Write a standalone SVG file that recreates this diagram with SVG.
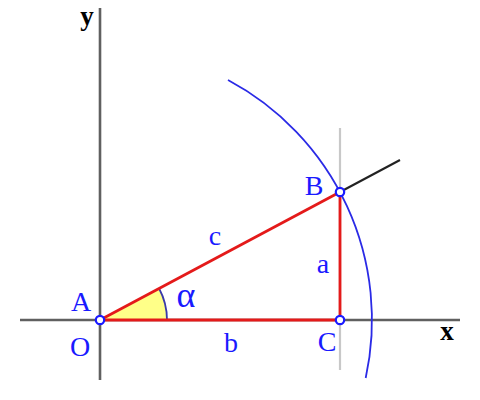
<svg xmlns="http://www.w3.org/2000/svg" width="480" height="400" viewBox="0 0 480 400">
<style>
.lbl{font-family:"Liberation Serif","Times New Roman",serif;font-size:28px;fill:#1a1aff;text-anchor:middle}
.ax{font-family:"Liberation Serif","Times New Roman",serif;font-size:27px;font-weight:bold;fill:#000;text-anchor:middle}
.axis{stroke:#606060;stroke-width:2.6;fill:none}
.side{stroke:#e41a1a;stroke-width:2.8;fill:none;stroke-linecap:round}
.pt{fill:#fff;stroke:#1a1aff;stroke-width:2.2}
</style>
<rect width="480" height="400" fill="#fff"/>
<g id="axes">
<line class="axis" x1="20" y1="320" x2="460" y2="320"/>
<line class="axis" x1="100" y1="8" x2="100" y2="380"/>
<text class="ax" x="447" y="340">x</text>
<text class="ax" x="87" y="25">y</text>
</g>
<g id="connectors">
<line x1="340" y1="128" x2="340" y2="370" stroke="#c8c8c8" stroke-width="2.2"/>
<line x1="340" y1="192" x2="400" y2="160" stroke="#222" stroke-width="2"/>
<path d="M228,80 A272,272 0 0 1 365.7,378" fill="none" stroke="#2a2ae6" stroke-width="1.8"/>
<path d="M100,320 L167,320 A67,67 0 0 0 159.1,288.5 Z" fill="#ffff88" stroke="none"/>
<path d="M167,320 A67,67 0 0 0 159.1,288.5" fill="none" stroke="#3a3aaa" stroke-width="1.8"/>
<line class="side" x1="100" y1="320" x2="340" y2="192"/>
<line class="side" x1="100" y1="320" x2="340" y2="320"/>
<line class="side" x1="340" y1="192" x2="340" y2="320"/>
</g>
<g id="A"><circle class="pt" cx="100" cy="320" r="4.2"/><text class="lbl" x="81" y="311">A</text><text class="lbl" x="80" y="356">O</text></g>
<g id="B"><circle class="pt" cx="340" cy="192" r="4.2"/><text class="lbl" x="314" y="195">B</text></g>
<g id="C"><circle class="pt" cx="340" cy="320" r="4.2"/><text class="lbl" x="327" y="351">C</text></g>
<g id="labels">
<text class="lbl" x="215" y="245">c</text>
<text class="lbl" x="323" y="273">a</text>
<text class="lbl" x="231" y="352">b</text>
<text class="lbl" x="186" y="307" style="font-size:36px">α</text>
</g>
</svg>
